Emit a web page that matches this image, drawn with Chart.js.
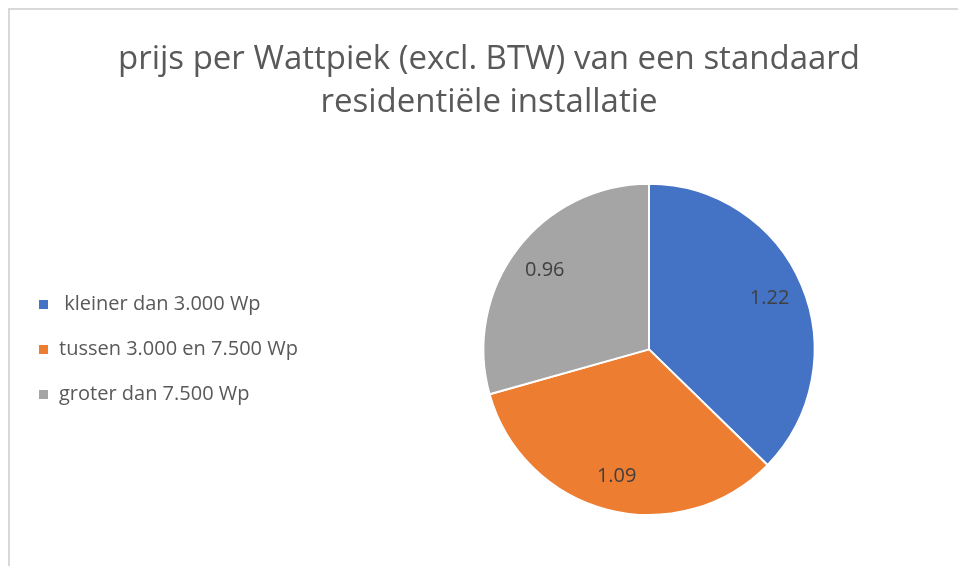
<!DOCTYPE html>
<html>
<head>
<meta charset="utf-8">
<script src="https://cdn.jsdelivr.net/npm/chart.js@4/dist/chart.umd.min.js"></script>
<style>
  html, body { margin: 0; padding: 0; background: #fff; overflow: hidden; width: 958px; height: 566px; }
  #frame { position: absolute; left: 8px; top: 8px; width: 1000px; height: 600px;
           border-left: 2px solid #d9d9d9; border-top: 2px solid #d9d9d9; }
  #chart { position: absolute; left: 10px; top: 0; }
</style>
</head>
<body>
<div id="frame"></div>
<canvas id="chart" width="958" height="566"></canvas>
<script>
const titleLines = ["prijs per Wattpiek (excl. BTW) van een standaard", "residentiële installatie"];
const categories = [" kleiner dan 3.000 Wp", "tussen 3.000 en 7.500 Wp", "groter dan 7.500 Wp"];
const prices = [1.22, 1.09, 0.96];
const sliceColors = ["#4472C4", "#ED7D31", "#A5A5A5"];

const textGrey = "#595959";
const fontFamily = "'Open Sans', 'Noto Sans', sans-serif";

// fixed legend column width so the pie sits to the right like the original
const legendWidthPlugin = {
  id: "legendWidth",
  beforeLayout(chart) {
    const legend = chart.legend;
    if (legend && !legend._fixedWidth) {
      legend._fixedWidth = true;
      const fit = legend.fit;
      legend.fit = function () {
        fit.call(this);
        this.width = 320;
      };
    }
  }
};

// value labels inside each slice
const sliceLabels = {
  id: "sliceLabels",
  afterDatasetsDraw(chart) {
    const ctx = chart.ctx;
    const meta = chart.getDatasetMeta(0);
    ctx.save();
    ctx.font = "20px " + fontFamily;
    ctx.fillStyle = "#404040";
    ctx.textAlign = "center";
    ctx.textBaseline = "middle";
    meta.data.forEach((arc, i) => {
      const p = arc.getProps(["x", "y", "startAngle", "endAngle", "outerRadius"], true);
      const mid = (p.startAngle + p.endAngle) / 2;
      const r = p.outerRadius * 0.79;
      ctx.fillText(prices[i].toFixed(2), p.x + Math.cos(mid) * r, p.y + Math.sin(mid) * r);
    });
    ctx.restore();
  }
};

new Chart(document.getElementById("chart"), {
  type: "pie",
  data: {
    labels: categories,
    datasets: [{
      data: prices,
      backgroundColor: sliceColors,
      borderColor: "#ffffff",
      borderWidth: 2
    }]
  },
  options: {
    responsive: false,
    animation: false,
    layout: { padding: { left: 3, right: 3, top: 0, bottom: 50 } },
    plugins: {
      title: {
        display: true,
        text: titleLines,
        color: textGrey,
        font: { family: fontFamily, size: 33, weight: "normal", lineHeight: 1.3 },
        padding: { top: 38, bottom: 59 }
      },
      legend: {
        position: "left",
        fullSize: false,
        labels: {
          color: textGrey,
          font: { family: fontFamily, size: 20 },
          boxWidth: 11,
          boxHeight: 11,
          padding: 25
        }
      },
      tooltip: { enabled: false }
    }
  },
  plugins: [legendWidthPlugin, sliceLabels]
});
</script>
</body>
</html>
